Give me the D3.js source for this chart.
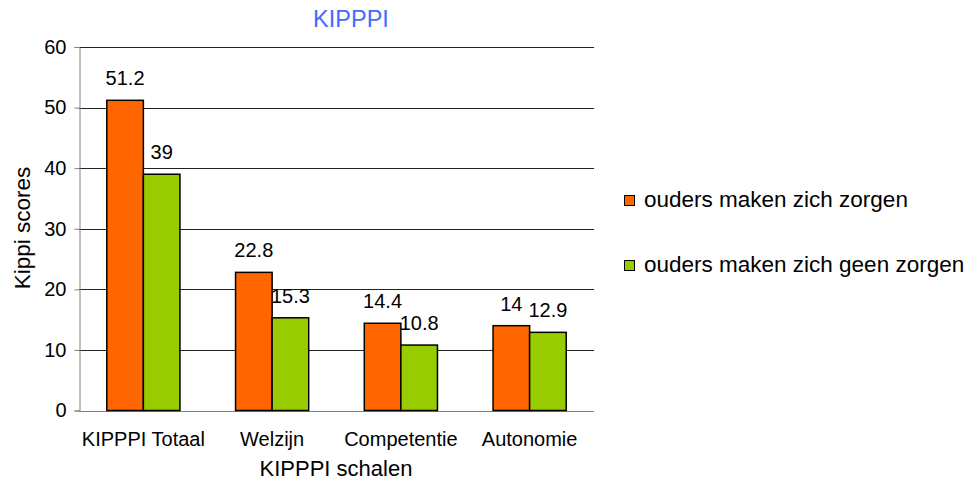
<!DOCTYPE html>
<html>
<head>
<meta charset="utf-8">
<script src="https://cdn.jsdelivr.net/npm/d3@7"></script>
<style>
  body { margin: 0; background: #fff; }
  text { font-family: "Liberation Sans", Arial, sans-serif; }
</style>
</head>
<body>
<div id="main"></div>
<script>
const categories = ["KIPPPI Totaal", "Welzijn", "Competentie", "Autonomie"];
const seriesNames = ["ouders maken zich zorgen", "ouders maken zich geen zorgen"];
const zorgen = [51.2, 22.8, 14.4, 14];
const geenZorgen = [39, 15.3, 10.8, 12.9];
const yTicks = [0, 10, 20, 30, 40, 50, 60];
const colors = ["#FF6600", "#99CC00"];

const W = 965, H = 480;
const margin = { left: 79, right: 371, top: 47, bottom: 69.5 };

const svg = d3.select("#main").append("svg")
    .attr("width", W)
    .attr("height", H);

const x0 = d3.scaleBand()
    .domain(categories)
    .range([margin.left, W - margin.right]);

const x1 = d3.scaleBand()
    .domain(seriesNames)
    .range([0, x0.bandwidth()])
    .paddingOuter(0.76);

const y = d3.scaleLinear()
    .domain([0, 60])
    .range([H - margin.bottom, margin.top]);

// gridlines
svg.append("g")
    .selectAll("line")
    .data(yTicks.filter(d => d > 0))
    .join("line")
    .attr("x1", margin.left)
    .attr("x2", W - margin.right)
    .attr("y1", d => Math.round(y(d)) + 0.5)
    .attr("y2", d => Math.round(y(d)) + 0.5)
    .attr("stroke", "#222")
    .attr("stroke-width", 1);

// y axis
const yAxis = svg.append("g")
    .attr("transform", `translate(${margin.left + 0.5},0)`)
    .call(d3.axisLeft(y).tickValues(yTicks).tickSize(5).tickPadding(8).tickFormat(d3.format("d")));
yAxis.select(".domain").attr("stroke", "#808080");
yAxis.selectAll(".tick line").attr("stroke", "#808080");
yAxis.selectAll(".tick text")
    .attr("font-size", 20)
    .attr("fill", "#000");

// x baseline
svg.append("line")
    .attr("x1", margin.left)
    .attr("x2", W - margin.right)
    .attr("y1", Math.round(y(0)) + 0.5)
    .attr("y2", Math.round(y(0)) + 0.5)
    .attr("stroke", "#808080");

// bars
const rows = categories.map((c, i) => ({ cat: c, vals: [zorgen[i], geenZorgen[i]] }));
const groups = svg.append("g")
    .selectAll("g")
    .data(rows)
    .join("g")
    .attr("transform", d => `translate(${x0(d.cat)},0)`);

groups.selectAll("rect")
    .data(d => d.vals.map((v, j) => ({ name: seriesNames[j], v, j })))
    .join("rect")
    .attr("x", d => x1(d.name))
    .attr("y", d => y(d.v))
    .attr("width", x1.bandwidth())
    .attr("height", d => y(0) - y(d.v))
    .attr("fill", d => colors[d.j])
    .attr("stroke", "#000")
    .attr("stroke-width", 1.5);

groups.selectAll("text")
    .data(d => d.vals.map((v, j) => ({ name: seriesNames[j], v, j })))
    .join("text")
    .attr("x", d => x1(d.name) + x1.bandwidth() / 2)
    .attr("y", d => y(d.v) - 15)
    .attr("text-anchor", "middle")
    .attr("font-size", 20)
    .text(d => d.v);

// category labels
svg.append("g")
    .selectAll("text")
    .data(categories)
    .join("text")
    .attr("x", d => x0(d) + x0.bandwidth() / 2)
    .attr("y", y(0) + 35)
    .attr("text-anchor", "middle")
    .attr("font-size", 20)
    .text(d => d);

// axis titles
svg.append("text")
    .attr("x", 336)
    .attr("y", 476)
    .attr("text-anchor", "middle")
    .attr("font-size", 22)
    .text("KIPPPI schalen");

svg.append("text")
    .attr("transform", `translate(30,228) rotate(-90)`)
    .attr("text-anchor", "middle")
    .attr("font-size", 22.5)
    .text("Kippi scores");

// title
svg.append("text")
    .attr("x", 351)
    .attr("y", 27)
    .attr("text-anchor", "middle")
    .attr("font-size", 23.5)
    .attr("fill", "#3F6CFF")
    .text("KIPPPI");

// legend
const legend = svg.append("g")
    .selectAll("g")
    .data(seriesNames)
    .join("g")
    .attr("transform", (d, i) => `translate(624,${195 + i * 65})`);
legend.append("rect")
    .attr("x", 0.5)
    .attr("y", 0.5)
    .attr("width", 10)
    .attr("height", 10)
    .attr("fill", (d, i) => colors[i])
    .attr("stroke", "#000")
    .attr("stroke-width", 1);
legend.append("text")
    .attr("x", 20)
    .attr("y", 12)
    .attr("font-size", 22.5)
    .text(d => d);
</script>
</body>
</html>
